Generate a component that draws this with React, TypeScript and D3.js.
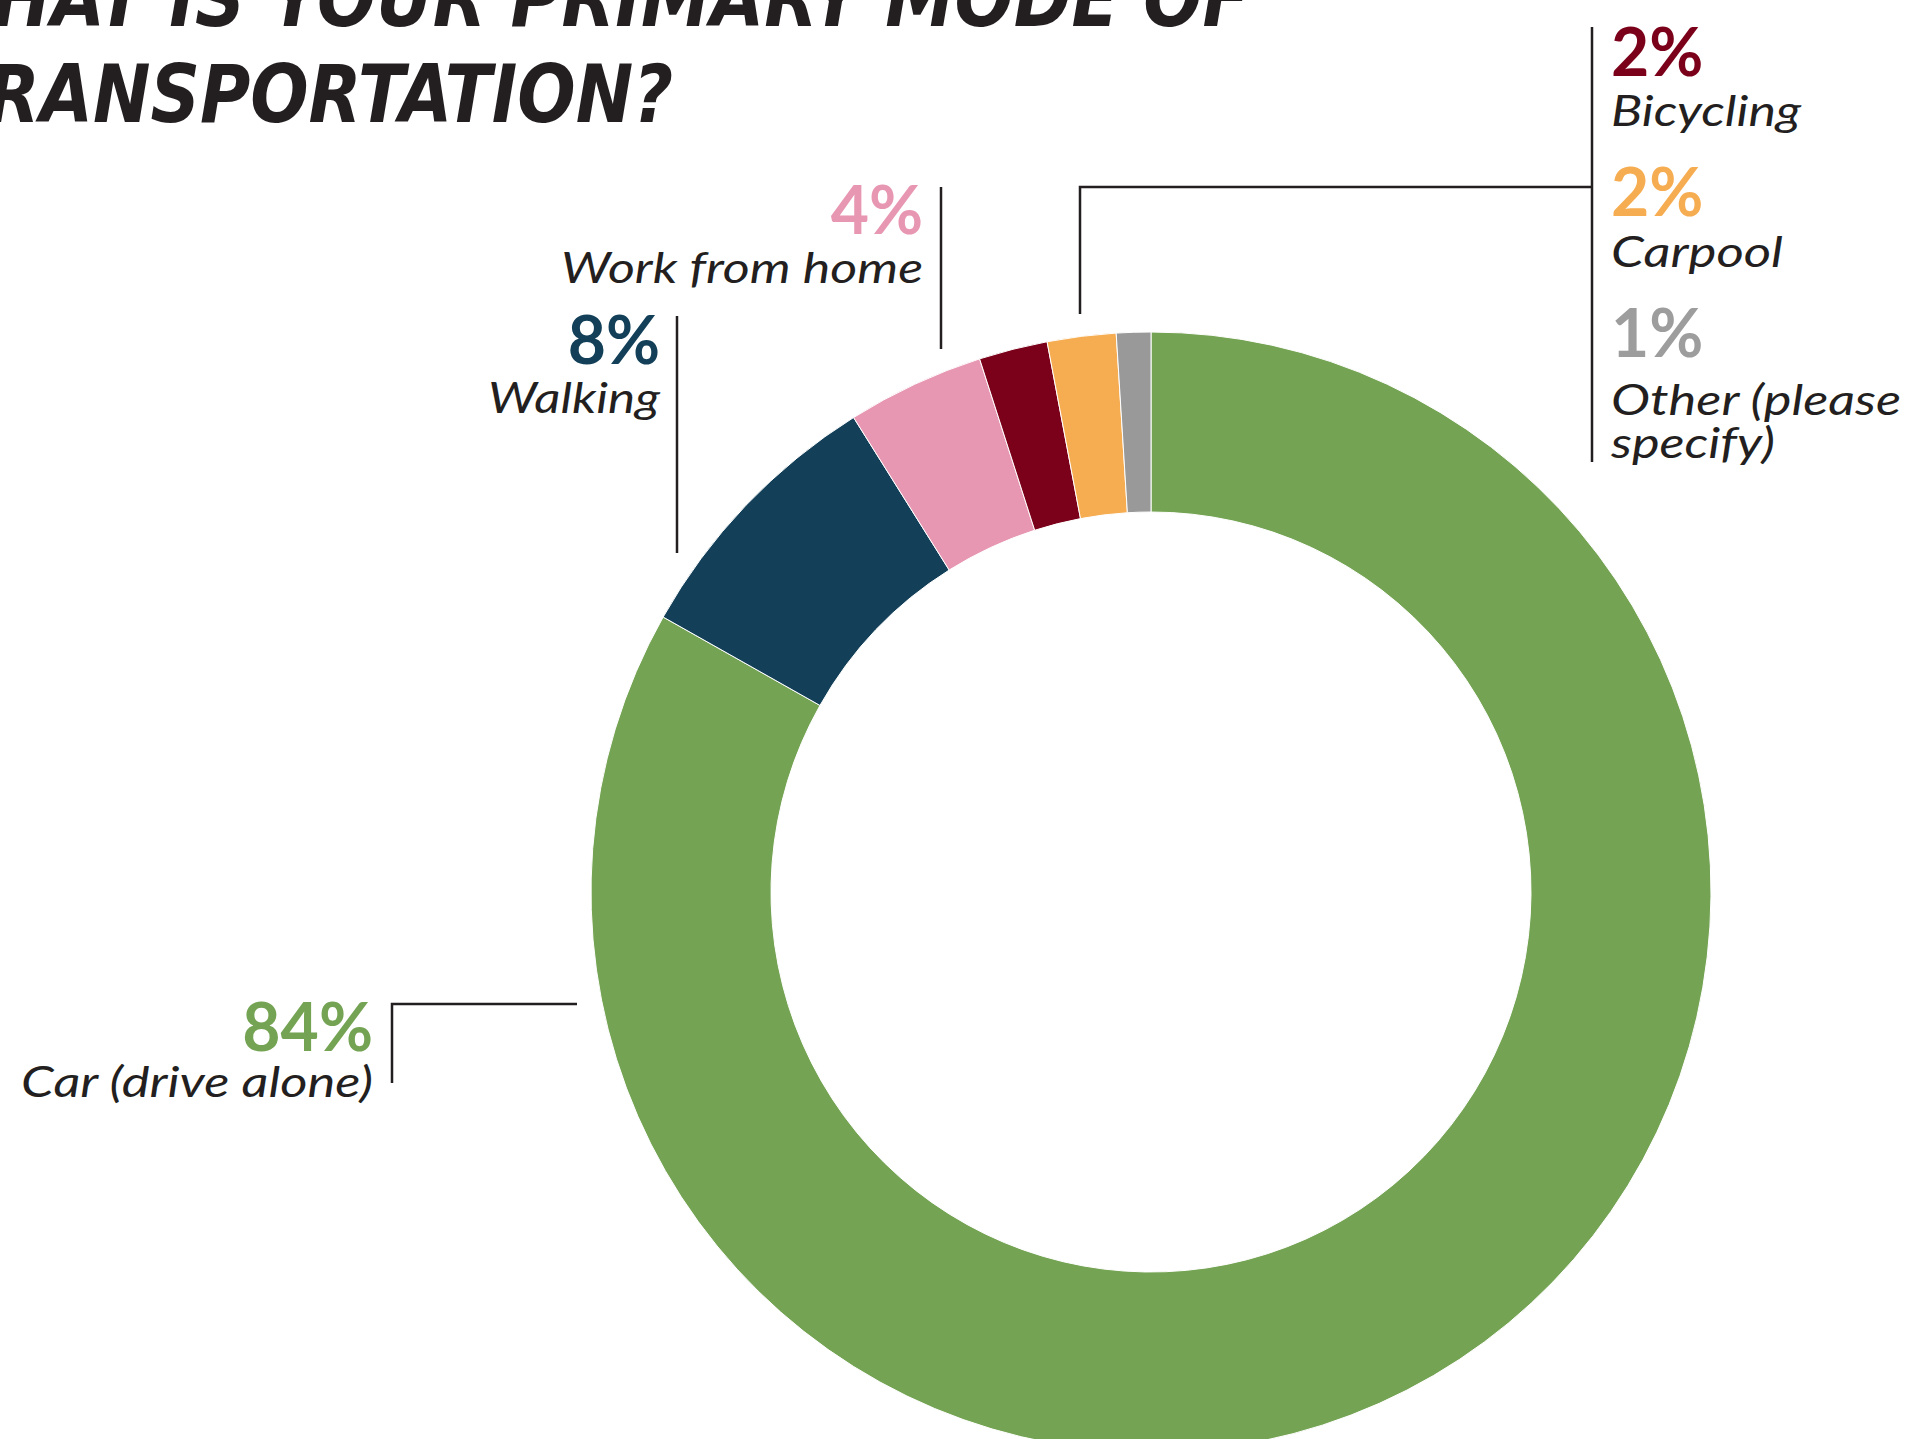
import React from "react";
import * as d3 from "d3";

// survey answers, clockwise from 12 o'clock
const categories = ["Car (drive alone)", "Walking", "Work from home", "Bicycling", "Carpool", "Other (please specify)"];
const values = [84, 8, 4, 2, 2, 1];
const sliceColors = ["#74a453", "#134058", "#e897b2", "#7b0019", "#f6ad52", "#999999"];
const titleLines = ["WHAT IS YOUR PRIMARY MODE OF", "TRANSPORTATION?"];

const W = 1909;
const H = 1439;
const cx = 1151;
const cy = 892;
const outerR = 560;
const innerR = 380;

const ink = "#231f20";
const labelFont = "Lato, 'Open Sans', sans-serif";
const titleFont = "'Liberation Sans Narrow', 'DejaVu Sans Condensed', sans-serif";

// where each label sits, how wide its name lines run, and the leader line path
const labelLayout = [
  { x: 373, pctY: 1051, nameY: 1097, anchor: "end", lines: [["Car (drive alone)", 352]], leader: [[577, 1004], [392, 1004], [392, 1083]] },
  { x: 660, pctY: 364, nameY: 413, anchor: "end", lines: [["Walking", 172]], leader: [[677, 316], [677, 553]] },
  { x: 923, pctY: 234, nameY: 283, anchor: "end", lines: [["Work from home", 362]], leader: [[941, 187], [941, 349]] },
  { x: 1611, pctY: 76, nameY: 126, anchor: "start", lines: [["Bicycling", 190]], leader: [[1080, 314], [1080, 187], [1592, 187]] },
  { x: 1611, pctY: 216, nameY: 267, anchor: "start", lines: [["Carpool", 172]], leader: [] },
  { x: 1611, pctY: 357, nameY: 415, anchor: "start", lines: [["Other (please", 290], ["specify)", 164]], leader: [[1592, 27], [1592, 462]] },
];

export default function App() {
  const pie = d3.pie<number>().sort(null).value((d) => d);
  const arcs = pie(values);
  const arc = d3.arc<d3.PieArcDatum<number>>().innerRadius(innerR).outerRadius(outerR);
  const line = d3.line();

  return (
    <svg
      width={W}
      height={H}
      style={{ position: "absolute", left: 0, top: 0, display: "block", background: "#fff" }}
    >
      {/* title, bleeding off the top-left edge like the original crop */}
      <g fontFamily={titleFont} fontWeight="bold" fontStyle="italic" fontSize={80} fill={ink}>
        <text x={-84} y={26} textLength={1334} lengthAdjust="spacingAndGlyphs">{titleLines[0]}</text>
        <text x={-60} y={122} textLength={733} lengthAdjust="spacingAndGlyphs">{titleLines[1]}</text>
      </g>

      <g transform={`translate(${cx},${cy})`}>
        {arcs.map((a, i) => (
          <path key={categories[i]} d={arc(a) || ""} fill={sliceColors[i]} stroke="#fff" strokeWidth={1} />
        ))}
      </g>

      {labelLayout.map((l, i) =>
        l.leader.length ? (
          <path key={"lead" + i} d={line(l.leader as [number, number][]) || ""} fill="none" stroke={ink} strokeWidth={2.5} />
        ) : null
      )}

      {labelLayout.map((l, i) => (
        <g key={"lab" + i} fontFamily={labelFont} textAnchor={l.anchor}>
          <text x={l.x} y={l.pctY} fontSize={66} fontWeight="bold" fill={i === 5 ? "#9d9d9d" : sliceColors[i]}>
            {values[i]}%
          </text>
          {l.lines.map(([t, w], k) => (
            <text
              key={k}
              x={l.x}
              y={l.nameY + k * 43}
              fontSize={43}
              fontStyle="italic"
              fill={ink}
              textLength={w as number}
              lengthAdjust="spacingAndGlyphs"
            >
              {t}
            </text>
          ))}
        </g>
      ))}
    </svg>
  );
}
